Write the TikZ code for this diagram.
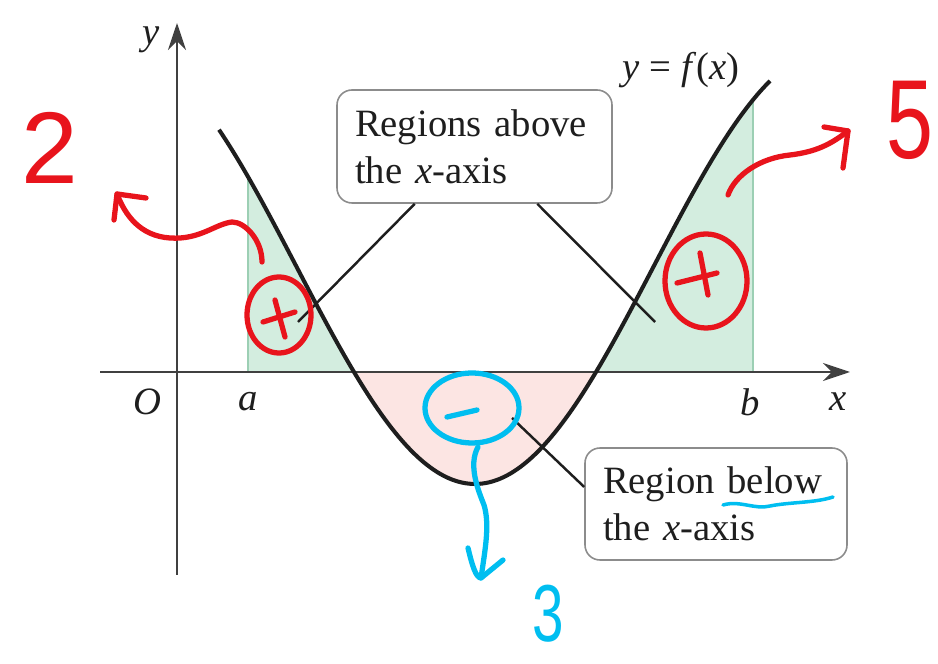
\documentclass[tikz,border=0pt]{standalone}
\usepackage{fontspec}
\setmainfont{Liberation Serif}
\newfontfamily\handfont{Liberation Sans}
\usetikzlibrary{arrows.meta,calc}
\definecolor{greenfill}{HTML}{D3EDDF}
\definecolor{pinkfill}{HTML}{FCE5E3}
\definecolor{edgegreen}{HTML}{9CCFB4}
\definecolor{boxgray}{HTML}{8C8C8C}
\definecolor{inkdark}{HTML}{1E1E1E}
\definecolor{penred}{HTML}{E8141C}
\definecolor{pencyan}{HTML}{00BEF0}
\begin{document}
\begin{tikzpicture}[x=0.2mm,y=-0.2mm,
  declare function={f(\x)=266.7+217.3*cos(0.5042*(\x-475));},
  axisline/.style={line width=1.6pt,color=inkdark!85,-{Stealth[length=5.4mm,width=3.6mm]}},
  curveline/.style={line width=2.3pt,color=inkdark},
  leader/.style={line width=1.4pt,color=inkdark},
  tbox/.style={draw=boxgray,line width=0.9pt,rounded corners=3mm,fill=white,
    inner xsep=3.6mm,inner ysep=0pt,align=left,
    font=\fontsize{22}{26.6}\selectfont,text=inkdark},
  lab/.style={font=\fontsize{22}{26}\selectfont\itshape,text=inkdark},
  redpen/.style={draw=penred,line width=3pt,line cap=round,line join=round},
  cyanpen/.style={draw=pencyan,line width=3pt,line cap=round,line join=round},
  digit/.style={font=\handfont\fontsize{#1}{#1}\selectfont,inner sep=0pt}]
\useasboundingbox (0,0) rectangle (938,664);
% shaded regions
\fill[greenfill] (248,372) -- plot[domain=248:354,samples=40] (\x,{f(\x)}) -- cycle;
\fill[pinkfill] (354,372) -- plot[domain=354:596,samples=60] (\x,{f(\x)}) -- cycle;
\fill[greenfill] (596,372) -- plot[domain=596:753,samples=40] (\x,{f(\x)}) -- (753,372) -- cycle;
\draw[edgegreen,line width=1pt] (248,372) -- (248,{f(248)});
\draw[edgegreen,line width=1pt] (753,372) -- (753,{f(753)});
% axes
\draw[axisline] (100,372) -- (850,372);
\draw[axisline] (177,575) -- (177,23);
% curve
\draw[curveline] plot[domain=219:770,samples=160,smooth] (\x,{f(\x)});
% labels
\node[lab] (ylab) at (151,40) {y};
\node[lab] (olab) at (147,402) {O};
\node[lab] (alab) at (248,402) {a};
\node[lab] (blab) at (750,402) {b};
\node[lab] (xlab) at (838,402) {x};
\node[lab,font=\fontsize{22}{26}\selectfont] (flab) at (681,70) {\textit{y} = \textit{f}(\textit{x})};
% boxes
\node[tbox,minimum width=55mm,minimum height=22.6mm,text width=47.8mm] (above) at (474.5,146.5)
  {Regions above\\the \textit{x}-axis};
\node[tbox,minimum width=52.4mm,minimum height=22.4mm,text width=45.2mm] (below) at (716,504)
  {Region below\\the \textit{x}-axis};
% leaders
\coordinate (pl) at (298,322);
\coordinate (pr) at (655,322);
\coordinate (pm) at (512,418);
\draw[leader] ($(above.south west)!0.284!(above.south east)$) -- (pl);
\draw[leader] ($(above.south west)!0.727!(above.south east)$) -- (pr);
\draw[leader] ($(below.north west)!0.35!(below.south west)$) -- (pm);
% red annotations
\draw[redpen] (279,315) ellipse [x radius=6.4mm,y radius=7.6mm];
\draw[redpen] (263,322) -- (295,312);
\draw[redpen] (275,300) -- (285,337);
\draw[redpen] (706,281) ellipse [x radius=8.2mm,y radius=9.4mm];
\draw[redpen] (677,283) -- (717,273);
\draw[redpen] (700,253) -- (708,295);
\coordinate (rl0) at (262,262);
\coordinate (rl1) at (117,194);
\draw[redpen] (rl0) .. controls (262,240) and (245,222) .. (232,222)
  .. controls (215,224) and (200,240) .. (170,238)
  .. controls (140,236) and (125,215) .. (rl1);
\draw[redpen] (114,220) -- (rl1) -- (146,198);
\coordinate (rr0) at (728,195);
\coordinate (rr1) at (848,131);
\draw[redpen] (rr0) .. controls (735,175) and (760,158) .. (790,155)
  .. controls (815,152) and (830,145) .. (rr1);
\draw[redpen] (824,127) -- (rr1) -- (843,168);
\node[digit=58,text=penred] (two) at (50,148) {2};
\node[digit=64,text=penred,xscale=0.75] (five) at (910,120) {5};
% cyan annotations
\draw[cyanpen] (472,408) ellipse [x radius=9.4mm,y radius=7mm];
\draw[cyanpen] (447,417) -- (477,410);
\coordinate (c0) at (478,447);
\coordinate (c1) at (481,578);
\draw[cyanpen] (c0) .. controls (468,465) and (478,490) .. (484,505)
  .. controls (490,525) and (485,550) .. (c1);
\draw[cyanpen] (468,548) .. controls (472,565) and (476,578) .. (c1) -- (503,560);
\draw[cyanpen,line width=2pt] (723,505) .. controls (740,500) and (755,510) .. (770,506)
  .. controls (790,502) and (815,503) .. (833,497);
\node[digit=46,text=pencyan,xscale=0.7] (three) at (548,614) {3};
\end{tikzpicture}
\end{document}
